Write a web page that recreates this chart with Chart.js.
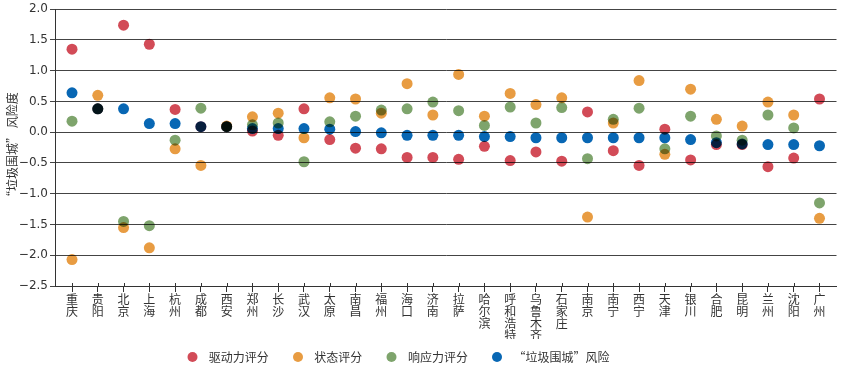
<!DOCTYPE html>
<html>
<head>
<meta charset="utf-8">
<script src="https://cdn.jsdelivr.net/npm/chart.js@4/dist/chart.umd.min.js"></script>
<style>
  html, body { margin: 0; padding: 0; background: #fff; }
  #wrap { width: 842px; height: 369px; }
</style>
</head>
<body>
<div id="wrap"><canvas id="myChart"></canvas></div>
<script>
var cidades = ['重庆','贵阳','北京','上海','杭州','成都','西安','郑州','长沙','武汉','太原','南昌','福州','海口','济南',
  '拉萨','哈尔滨','呼和浩特','乌鲁木齐','石家庄','南京','南宁','西宁','天津','银川','合肥','昆明','兰州','沈阳','广州'];

var forca = [1.35, 0.38, 1.74, 1.43, 0.37, 0.09, 0.09, 0.02, -0.05, 0.38, -0.12, -0.26, -0.27, -0.41, -0.41,
  -0.44, -0.23, -0.46, -0.32, -0.47, 0.33, -0.30, -0.54, 0.05, -0.45, -0.20, -0.20, -0.56, -0.42, 0.54];
var estado = [-2.07, 0.60, -1.55, -1.88, -0.27, -0.54, 0.10, 0.25, 0.31, -0.09, 0.56, 0.54, 0.31, 0.79, 0.28,
  0.94, 0.26, 0.63, 0.45, 0.56, -1.38, 0.15, 0.84, -0.36, 0.70, 0.21, 0.10, 0.49, 0.28, -1.40];
var resposta = [0.18, 0.38, -1.45, -1.52, -0.13, 0.39, 0.09, 0.12, 0.15, -0.48, 0.17, 0.26, 0.36, 0.38, 0.49,
  0.35, 0.11, 0.41, 0.15, 0.40, -0.43, 0.21, 0.39, -0.27, 0.26, -0.06, -0.13, 0.28, 0.07, -1.15];
var risco = [0.64, 0.38, 0.38, 0.14, 0.14, 0.09, 0.09, 0.06, 0.06, 0.06, 0.05, 0.01, -0.01, -0.05, -0.05,
  -0.05, -0.07, -0.07, -0.09, -0.09, -0.09, -0.09, -0.09, -0.09, -0.12, -0.17, -0.19, -0.20, -0.20, -0.22];

var nomes = ['驱动力评分', '状态评分', '响应力评分', '“垃圾围城”风险'];
var cores = ['#d24b57', '#e89c42', '#7ea46c', '#0867b4'];
var yTicks = [2.0, 1.5, 1.0, 0.5, 0, -0.5, -1.0, -1.5, -2.0, -2.5];

var fonte = '"Noto Sans CJK SC", "Noto Sans", sans-serif';
var LEGENDA_DESLOC = 25; // legend sits left of centre in the original
var LEGENDA_DESCE = 4;

function pontos(arr){
  var d = [];
  for (var i=0; i<arr.length; i++){
    d.push({x: i, y: arr[i]});
  }
  return d;
}

var series = [forca, estado, resposta, risco];
var datasets = [];
for (var s=0; s<series.length; s++){
  datasets.push({
    label: nomes[s],
    data: pontos(series[s]),
    backgroundColor: cores[s],
    borderColor: cores[s],
    borderWidth: 0,
    pointRadius: 5.5,
    pointHoverRadius: 5.5,
    pointStyle: 'circle',
    showLine: false
  });
}

// multiply blending so overlapping dots darken like the original
var multiplica = {
  id: 'multiplica',
  beforeDatasetsDraw: function(c){ c.ctx.save(); c.ctx.globalCompositeOperation = 'multiply'; },
  afterDatasetsDraw: function(c){ c.ctx.restore(); }
};

// small ticks above the x axis line + legend nudge
var extras = {
  id: 'extras',
  afterLayout: function(c){
    c.legend.right = c.legend.right - LEGENDA_DESLOC;
    c.legend.top += LEGENDA_DESCE;
    c.legend.bottom += LEGENDA_DESCE;
  },
  afterDraw: function(c){
    var x = c.scales.x, g = c.ctx;
    g.save();
    g.strokeStyle = '#333';
    g.lineWidth = 1;
    g.beginPath();
    for (var i=0; i<cidades.length; i++){
      var px = Math.round(x.getPixelForValue(i)) + 0.5;
      g.moveTo(px, x.top - 3);
      g.lineTo(px, x.top);
    }
    g.stroke();
    g.restore();
  }
};

var ctx = document.getElementById('myChart');
var myChart = new Chart(ctx, {
  type: 'scatter',
  data: { datasets: datasets },
  plugins: [multiplica, extras],
  options: {
    responsive: true,
    maintainAspectRatio: false,
    animation: false,
    layout: { padding: { top: 9, right: 4, left: 0, bottom: 0 } },
    plugins: {
      tooltip: { enabled: false },
      legend: {
        position: 'bottom',
        labels: {
          useBorderRadius: true,
          borderRadius: 5,
          boxWidth: 10,
          boxHeight: 10,
          padding: 8,
          color: '#333',
          font: { family: fonte, size: 12 },
          generateLabels: function(chart){
            return chart.data.datasets.map(function(d, i){
              return {
                text: '  ' + d.label + '      ',
                fillStyle: d.backgroundColor,
                strokeStyle: d.backgroundColor,
                lineWidth: 0,
                borderRadius: 5,
                fontColor: '#333',
                hidden: false,
                datasetIndex: i
              };
            });
          }
        }
      }
    },
    scales: {
      x: {
        type: 'linear',
        min: -0.66,
        max: 29.66,
        afterBuildTicks: function(scale){
          scale.ticks = cidades.map(function(c, i){ return {value: i}; });
        },
        afterFit: function(scale){ scale.height = 53; },
        ticks: {
          autoSkip: false,
          maxRotation: 0,
          padding: 1,
          color: '#333',
          font: { family: fonte, size: 12, lineHeight: 1.0 },
          callback: function(v){ return cidades[v] ? cidades[v].split('') : ''; }
        },
        grid: { drawOnChartArea: false, drawTicks: true, tickLength: 6, color: '#333' },
        border: { color: '#333', width: 1 }
      },
      y: {
        min: -2.5,
        max: 2.0,
        afterBuildTicks: function(scale){
          scale.ticks = yTicks.map(function(v){ return {value: v}; });
        },
        afterFit: function(scale){ scale.width = 55; },
        ticks: {
          padding: 2,
          color: '#333',
          font: { family: '"DejaVu Sans", sans-serif', size: 12 },
          callback: function(v){ return v.toFixed(1).replace('-', '−'); }
        },
        grid: { color: '#444', lineWidth: 1, tickLength: 5 },
        border: { color: '#333', width: 1 },
        title: {
          display: true,
          text: '“垃圾围城” 风险度',
          color: '#333',
          padding: { top: 5, bottom: 0 },
          font: { family: fonte, size: 12 }
        }
      }
    }
  }
});
</script>
</body>
</html>
